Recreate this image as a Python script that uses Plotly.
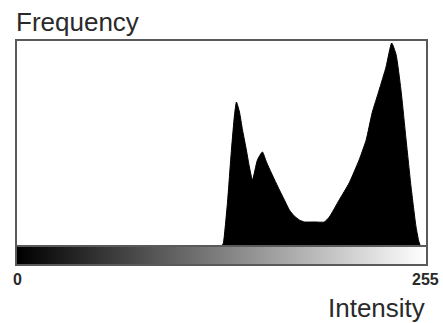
import plotly.graph_objects as go

# Grey-level histogram: intensity (0-255) vs. relative frequency
intensity = [128.1, 128.7, 131.2, 133.7, 135.6, 136.8, 138.7, 140.6, 143.0, 144.9,
             146.8, 149.9, 153.0, 155.5, 158.6, 163.6, 166.7, 169.8, 172.9, 176.0,
             179.1, 185.3, 191.6, 194.7, 200.9, 207.1, 213.3, 217.7, 221.4, 225.8,
             230.1, 233.6, 236.3, 239.4, 242.6, 245.7, 248.8, 250.6, 251.3]
frequency = [0.0, 0.01, 0.206, 0.466, 0.637, 0.701, 0.652, 0.564, 0.466, 0.382,
             0.319, 0.417, 0.456, 0.407, 0.353, 0.270, 0.221, 0.172, 0.142, 0.123,
             0.113, 0.113, 0.113, 0.137, 0.221, 0.304, 0.417, 0.515, 0.647, 0.760,
             0.873, 0.990, 0.935, 0.760, 0.515, 0.284, 0.088, 0.015, 0.0]

# Grey ramp shown under the histogram
ramp_levels = list(range(256))
axis_labels = ["0", "255"]
y_title = "Frequency"
x_title = "Intensity"

W, H = 443, 323
X0, X1 = 17, 426          # plot box, pixels
Y_TOP, Y_BASE = 41, 245   # histogram box
R_TOP, R_BOT = 247, 264   # ramp bar

def py(p):
    return 1 - p / H

fig = go.Figure()

fig.add_trace(go.Scatter(
    x=intensity, y=frequency, mode="lines", fill="tozeroy",
    fillcolor="black", line=dict(color="black", width=1, shape="spline", smoothing=0.5),
    xaxis="x", yaxis="y", hoverinfo="skip", showlegend=False))

fig.add_trace(go.Heatmap(
    z=[ramp_levels], x=ramp_levels, y=[0],
    colorscale=[[0, "#000000"], [1, "#ffffff"]],
    showscale=False, xaxis="x2", yaxis="y2", hoverinfo="skip"))

line_style = dict(showline=True, mirror=True, linecolor="#5a5a5a", linewidth=1.5,
                  showgrid=False, zeroline=False, showticklabels=False, ticks="")

fig.update_layout(
    width=W, height=H,
    margin=dict(l=0, r=0, t=0, b=0),
    paper_bgcolor="white", plot_bgcolor="white",
    xaxis=dict(domain=[X0 / W, X1 / W], range=[0, 255], anchor="y", **line_style),
    yaxis=dict(domain=[py(Y_BASE), py(Y_TOP)], range=[0, 1.0], anchor="x", **line_style),
    xaxis2=dict(domain=[X0 / W, X1 / W], range=[-0.5, 255.5], anchor="y2", **line_style),
    yaxis2=dict(domain=[py(R_BOT), py(R_TOP)], range=[-0.5, 0.5], anchor="x2", **line_style),
    font=dict(family="Liberation Sans, Arial, sans-serif", color="#2a2a2a"),
)

fig.add_annotation(text=y_title, xref="paper", yref="paper",
                   x=14 / W, y=py(22), xanchor="left", yanchor="middle",
                   showarrow=False, font=dict(size=26, color="#2a2a2a"))
fig.add_annotation(text=x_title, xref="paper", yref="paper",
                   x=427 / W, y=py(308), xanchor="right", yanchor="middle",
                   showarrow=False, font=dict(size=26, color="#2a2a2a"))
fig.add_annotation(text="<b>%s</b>" % axis_labels[0], xref="paper", yref="paper",
                   x=17 / W, y=py(279), xanchor="center", yanchor="middle",
                   showarrow=False, font=dict(size=16, color="#2a2a2a"))
fig.add_annotation(text="<b>%s</b>" % axis_labels[1], xref="paper", yref="paper",
                   x=441 / W, y=py(279), xanchor="right", yanchor="middle",
                   showarrow=False, font=dict(size=16, color="#2a2a2a"))

fig.write_html("out.html")
